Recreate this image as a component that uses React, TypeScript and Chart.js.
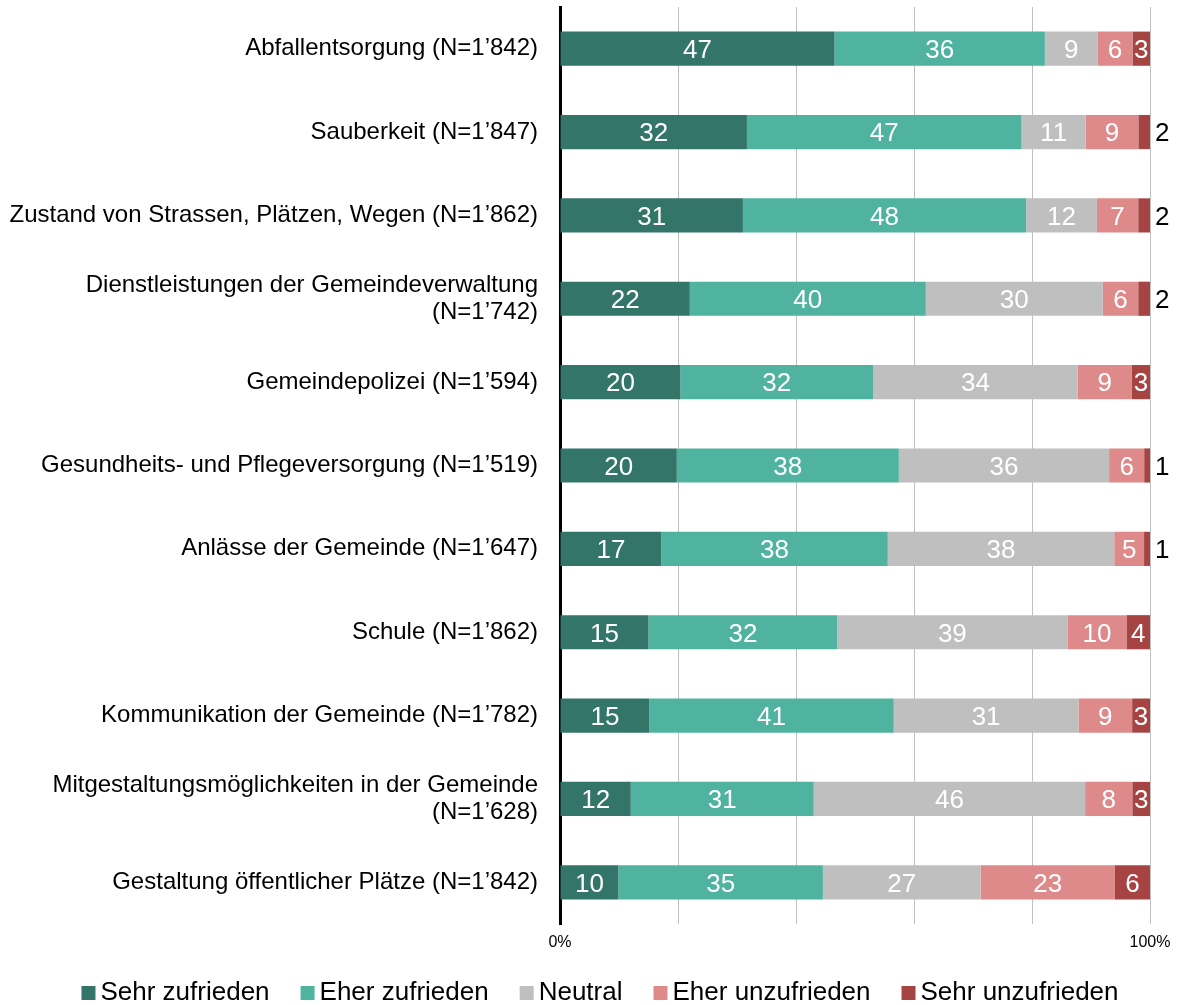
import React, { useEffect, useRef } from 'react';
import { Chart, registerables } from 'chart.js';

Chart.register(...registerables);

const categories: (string | string[])[] = [
  'Abfallentsorgung (N=1’842)',
  'Sauberkeit (N=1’847)',
  'Zustand von Strassen, Plätzen, Wegen (N=1’862)',
  ['Dienstleistungen der Gemeindeverwaltung', '(N=1’742)'],
  'Gemeindepolizei (N=1’594)',
  'Gesundheits- und Pflegeversorgung (N=1’519)',
  'Anlässe der Gemeinde (N=1’647)',
  'Schule (N=1’862)',
  'Kommunikation der Gemeinde (N=1’782)',
  ['Mitgestaltungsmöglichkeiten in der Gemeinde', '(N=1’628)'],
  'Gestaltung öffentlicher Plätze (N=1’842)',
];

const seriesNames = ['Sehr zufrieden', 'Eher zufrieden', 'Neutral', 'Eher unzufrieden', 'Sehr unzufrieden'];
const sehrZufrieden = [47, 32, 31, 22, 20, 20, 17, 15, 15, 12, 10];
const eherZufrieden = [36, 47, 48, 40, 32, 38, 38, 32, 41, 31, 35];
const neutral = [9, 11, 12, 30, 34, 36, 38, 39, 31, 46, 27];
const eherUnzufrieden = [6, 9, 7, 6, 9, 6, 5, 10, 9, 8, 23];
const sehrUnzufrieden = [3, 2, 2, 2, 3, 1, 1, 4, 3, 3, 6];
const seriesValues = [sehrZufrieden, eherZufrieden, neutral, eherUnzufrieden, sehrUnzufrieden];
const seriesColors = ['#337569', '#4FB3A0', '#BFBFBF', '#DE8A8A', '#A64444'];
const xTickLabels: Record<number, string> = { 0: '0%', 100: '100%' };

const FONT = 'Arial, "Liberation Sans", sans-serif';

const valueLabels = {
  id: 'valueLabels',
  afterDatasetsDraw(chart: any) {
    const ctx = chart.ctx;
    ctx.save();
    ctx.font = `26px ${FONT}`;
    ctx.textBaseline = 'alphabetic';
    chart.data.datasets.forEach((_ds: any, i: number) => {
      const meta = chart.getDatasetMeta(i);
      const raw = seriesValues[i];
      meta.data.forEach((el: any, j: number) => {
        const v = raw[j];
        const { x, base, y } = el.getProps(['x', 'base', 'y'], true);
        const baseline = y + 26 * 0.358;
        if (v <= 2) {
          ctx.fillStyle = '#000000';
          ctx.textAlign = 'left';
          ctx.fillText(String(v), x + 5, baseline);
        } else {
          ctx.fillStyle = '#FFFFFF';
          ctx.textAlign = 'center';
          ctx.fillText(String(v), (x + base) / 2, baseline);
        }
      });
    });
    ctx.restore();
  },
};

const bottomLegend = {
  id: 'bottomLegend',
  afterDraw(chart: any) {
    const ctx = chart.ctx;
    ctx.save();
    ctx.font = `26px ${FONT}`;
    ctx.textBaseline = 'alphabetic';
    ctx.textAlign = 'left';
    const box = 14;
    const gap = 5;
    const itemGap = 31;
    const widths = seriesNames.map((n) => ctx.measureText(n).width);
    const total = widths.reduce((a: number, w: number) => a + box + gap + w, 0) + itemGap * (seriesNames.length - 1);
    let x = chart.width / 2 + 10 - total / 2;
    const baseline = chart.height - 5;
    seriesNames.forEach((name, i) => {
      ctx.fillStyle = seriesColors[i];
      ctx.fillRect(x, baseline - box, box, box);
      x += box + gap;
      ctx.fillStyle = '#000000';
      ctx.fillText(name, x, baseline);
      x += widths[i] + itemGap;
    });
    ctx.restore();
  },
};

export default function App() {
  const canvasRef = useRef<HTMLCanvasElement | null>(null);

  useEffect(() => {
    if (!canvasRef.current) return;
    const totals = categories.map((_c, j) => seriesValues.reduce((s, arr) => s + arr[j], 0));
    const chart = new Chart(canvasRef.current, {
      type: 'bar',
      data: {
        labels: categories,
        datasets: seriesNames.map((name, i) => ({
          label: name,
          data: seriesValues[i].map((v, j) => (v / totals[j]) * 100),
          backgroundColor: seriesColors[i],
          borderWidth: 0,
          barPercentage: 0.41,
          categoryPercentage: 1,
        })),
      },
      options: {
        indexAxis: 'y',
        responsive: false,
        animation: false,
        layout: { padding: { top: 7, right: 30, bottom: 50, left: 0 } },
        plugins: {
          legend: { display: false },
          tooltip: { enabled: false },
        },
        scales: {
          x: {
            stacked: true,
            min: 0,
            max: 100,
            afterFit: (s: any) => {
              s.height = 31;
              s.paddingLeft = 0;
              s.paddingRight = 0;
            },
            ticks: {
              stepSize: 20,
              autoSkip: false,
              maxRotation: 0,
              padding: 9,
              color: '#000000',
              font: { family: FONT, size: 16 },
              callback: (v: any) => xTickLabels[Number(v)] ?? '',
            },
            grid: { color: '#BFBFBF', lineWidth: 1, drawTicks: false },
            border: { display: false },
          },
          y: {
            stacked: true,
            z: 1,
            afterFit: (s: any) => {
              s.width = 560;
              s.paddingTop = 0;
              s.paddingBottom = 0;
            },
            ticks: {
              autoSkip: false,
              padding: 22,
              color: '#000000',
              font: { family: FONT, size: 24, lineHeight: 1.1 },
            },
            grid: { display: false, drawTicks: false },
            border: { display: true, color: '#000000', width: 3 },
          },
        },
      },
      plugins: [valueLabels, bottomLegend],
    });
    return () => chart.destroy();
  }, []);

  return (
    <div style={{ position: 'absolute', left: 0, top: 0, width: 1180, height: 1005, background: '#FFFFFF' }}>
      <canvas ref={canvasRef} width={1180} height={1005} style={{ display: 'block' }} />
    </div>
  );
}
